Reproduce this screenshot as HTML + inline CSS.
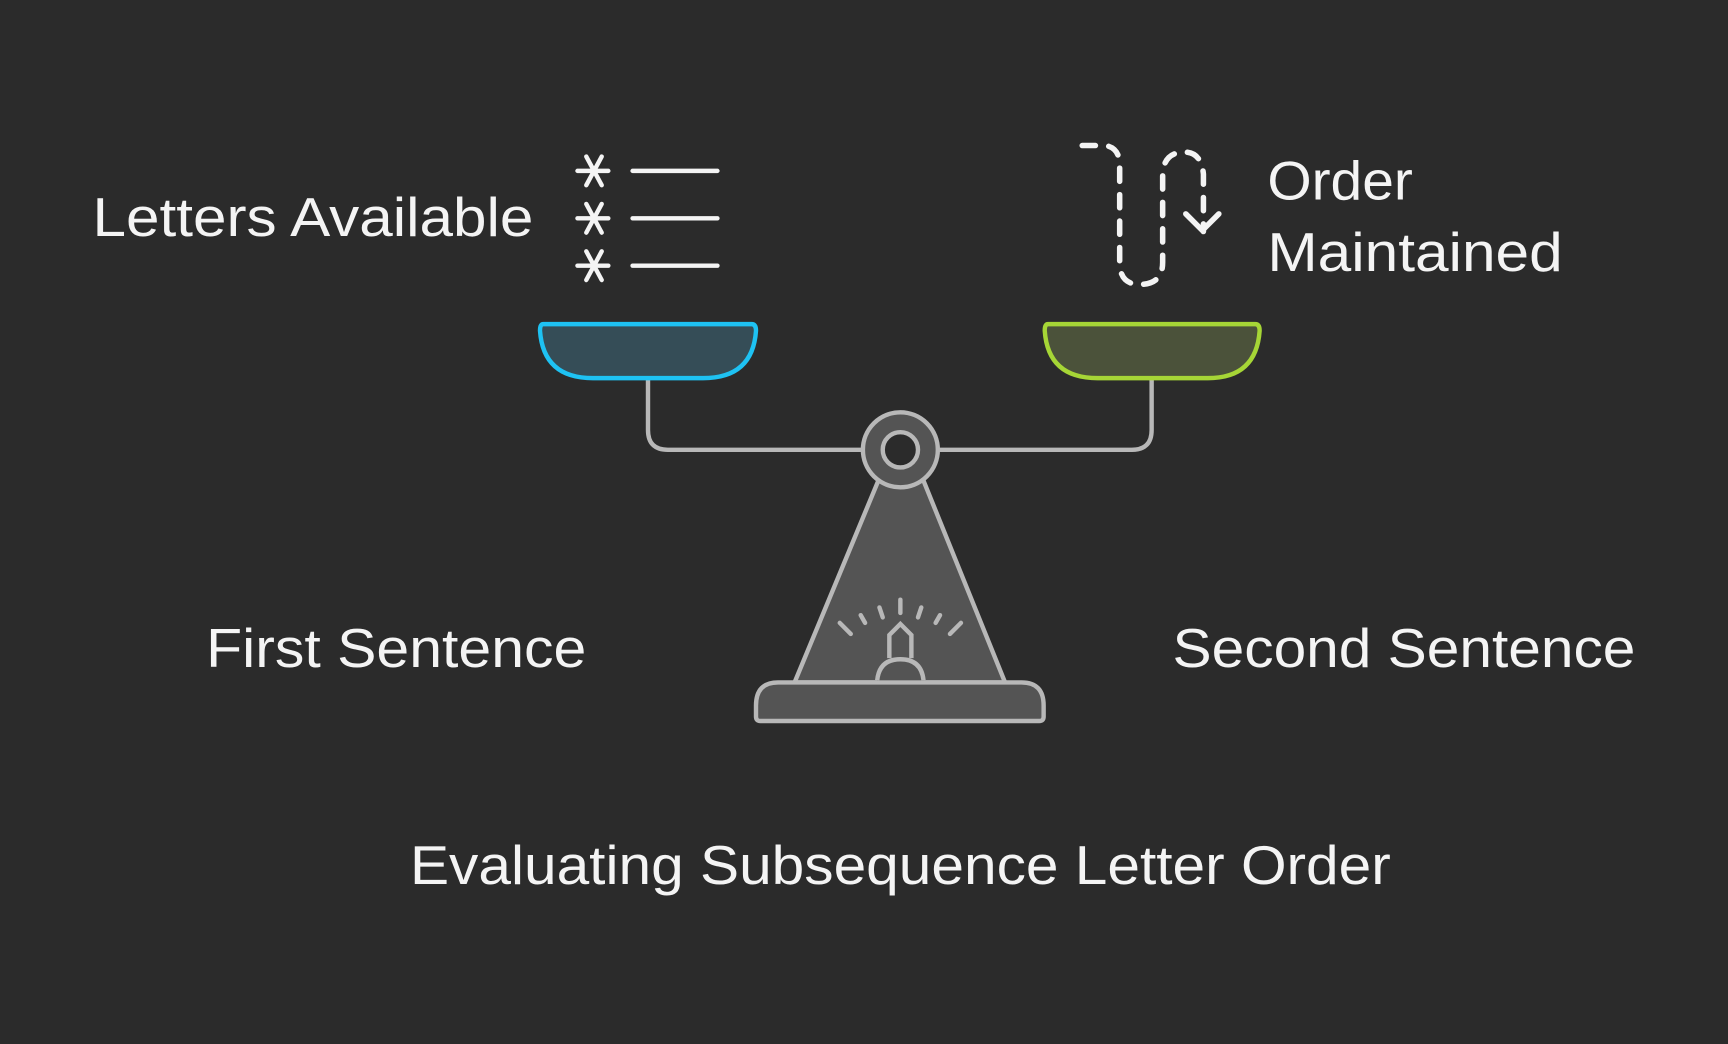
<!DOCTYPE html>
<html><head><meta charset="utf-8"><style>
html,body{margin:0;padding:0;background:#2b2b2b;}
svg{display:block}
text{font-family:"Liberation Sans",sans-serif;fill:#f4f4f4;font-size:50px}
</style></head><body>
<svg width="1728" height="1044" viewBox="0 0 1568 947" preserveAspectRatio="none" xmlns="http://www.w3.org/2000/svg">
<rect width="1568" height="947" fill="#2b2b2b"/>
<!-- texts -->
<text x="84" y="214" textLength="400" lengthAdjust="spacingAndGlyphs">Letters Available</text>
<text x="1150" y="181" textLength="132" lengthAdjust="spacingAndGlyphs">Order</text>
<text x="1150" y="246" textLength="268" lengthAdjust="spacingAndGlyphs">Maintained</text>
<text x="187" y="605" textLength="345" lengthAdjust="spacingAndGlyphs">First Sentence</text>
<text x="1064" y="605" textLength="420" lengthAdjust="spacingAndGlyphs">Second Sentence</text>
<text x="372" y="802" textLength="890" lengthAdjust="spacingAndGlyphs">Evaluating Subsequence Letter Order</text>
<!-- list icon -->
<g stroke="#f4f4f4" stroke-width="4" stroke-linecap="round" fill="none">
 <g id="ast">
  <line x1="524" y1="155" x2="552" y2="155"/>
  <line x1="532" y1="142" x2="546" y2="168"/>
  <line x1="546" y1="142" x2="532" y2="168"/>
 </g>
 <use href="#ast" y="43"/>
 <use href="#ast" y="86"/>
 <line x1="574" y1="155" x2="651" y2="155"/>
 <line x1="574" y1="198" x2="651" y2="198"/>
 <line x1="574" y1="241" x2="651" y2="241"/>
</g>
<!-- dashed order icon -->
<g stroke="#f4f4f4" stroke-width="5" stroke-linecap="round" fill="none">
 <path d="M982,132 H1003 Q1016,134 1016,150 V238 Q1016,258 1034,258 Q1055,258 1055,238 V160 Q1055,138 1075,138 Q1090,138 1092,158 V210" stroke-dasharray="12,12"/>
 <path d="M1076,194 L1091,209 L1106,194"/>
</g>
<!-- arms -->
<g stroke="#b8b8b8" stroke-width="4" fill="none">
 <path d="M588,343 V390 Q588,408 606,408 H785"/>
 <path d="M1045,343 V390 Q1045,408 1027,408 H850"/>
</g>
<!-- pans -->
<path d="M493,294 H682 Q686,294 686,300 Q683,343 638,343 H538 Q493,343 490,300 Q490,294 493,294 Z" fill="#354d57" stroke="#1ec2f3" stroke-width="4"/>
<path d="M951,294 H1139 Q1143,294 1143,300 Q1140,343 1096,343 H996 Q951,343 948,300 Q948,294 951,294 Z" fill="#4b523a" stroke="#a6d636" stroke-width="4"/>
<!-- stand -->
<g stroke="#b8b8b8" stroke-width="4">
 <path d="M797,436 L721,619 H912 L838,436 Z" fill="#545454"/>
 <path d="M706,619 H927 Q947,619 947,640 V650 Q947,654 943,654 H690 Q686,654 686,650 V640 Q686,619 706,619 Z" fill="#545454"/>
 <circle cx="817" cy="408" r="34" fill="#545454"/>
 <circle cx="817" cy="408" r="16" fill="#2b2b2b"/>
 <path d="M796,617 Q798,598 817,598 Q836,598 838,617" fill="#545454"/>
 <path d="M807,597 V576 L817,566 L827,576 V597" fill="none"/>
</g>
<g stroke="#b8b8b8" stroke-width="4" stroke-linecap="round">
 <line x1="817" y1="544" x2="817" y2="556"/>
 <line x1="798" y1="551" x2="801" y2="560"/>
 <line x1="836" y1="551" x2="833" y2="560"/>
 <line x1="781" y1="558" x2="785" y2="565"/>
 <line x1="853" y1="558" x2="849" y2="565"/>
 <line x1="762" y1="565" x2="772" y2="575"/>
 <line x1="872" y1="565" x2="862" y2="575"/>
</g>
</svg>
</body></html>
